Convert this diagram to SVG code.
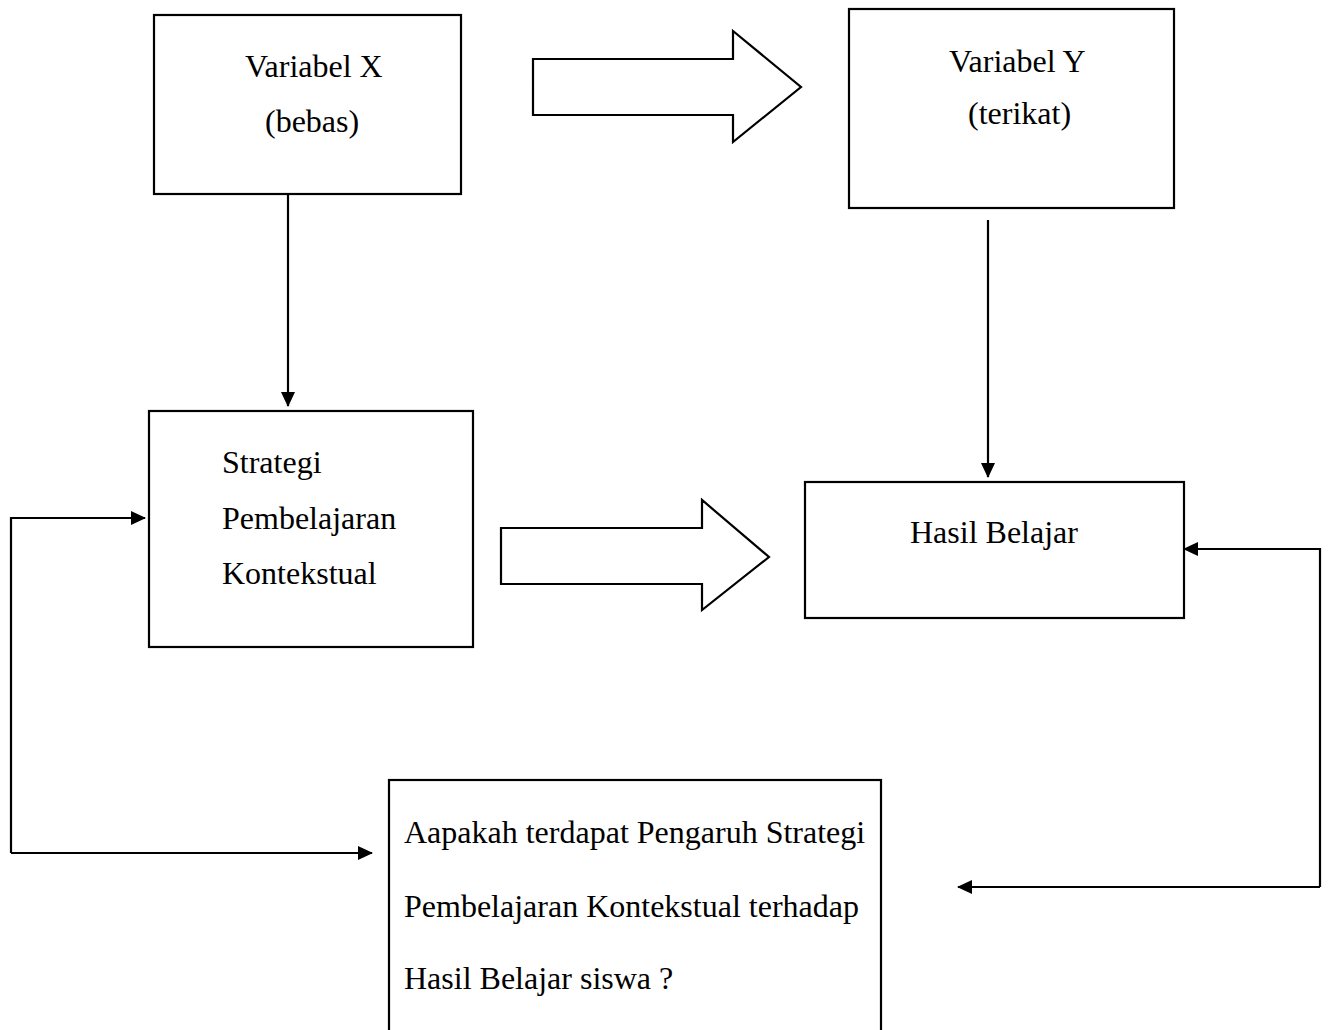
<svg xmlns="http://www.w3.org/2000/svg" width="1331" height="1030" viewBox="0 0 1331 1030">
<style>
.box{fill:#fff;stroke:#000;stroke-width:2.2}
.blk{fill:#fff;stroke:#000;stroke-width:2.2;stroke-linejoin:miter}
.t{font-family:"Liberation Serif","Times New Roman",serif;font-size:32px;fill:#000}
.c{fill:none;stroke:#000;stroke-width:2.2}
</style>
<defs>
<marker id="ah" viewBox="0 0 15 14" refX="14" refY="7" markerWidth="15" markerHeight="14" markerUnits="userSpaceOnUse" orient="auto">
<path d="M0,0 L15,7 L0,14 Z" fill="#000"/>
</marker>
</defs>
<rect width="1331" height="1030" fill="#fff"/>
<g id="varX">
<rect class="box" x="154" y="15" width="307" height="179"/>
<text class="t" x="245" y="77">Variabel X</text>
<text class="t" x="265" y="132">(bebas)</text>
</g>
<g id="varY">
<rect class="box" x="849" y="9" width="325" height="199"/>
<text class="t" x="949" y="72">Variabel Y</text>
<text class="t" x="968" y="124">(terikat)</text>
</g>
<g id="strategi">
<rect class="box" x="149" y="411" width="324" height="236"/>
<text class="t" x="222" y="473">Strategi</text>
<text class="t" x="222" y="529">Pembelajaran</text>
<text class="t" x="222" y="584">Kontekstual</text>
</g>
<g id="hasil">
<rect class="box" x="805" y="482" width="379" height="136"/>
<text class="t" x="910" y="543">Hasil Belajar</text>
</g>
<g id="pertanyaan">
<rect class="box" x="389" y="780" width="492" height="260"/>
<text class="t" x="404" y="843">Aapakah terdapat Pengaruh Strategi</text>
<text class="t" x="404" y="917">Pembelajaran Kontekstual terhadap</text>
<text class="t" x="404" y="989">Hasil Belajar siswa ?</text>
</g>
<g id="connectors">
<polygon class="blk" points="533,59 733,59 733,31 801,87 733,142 733,115 533,115"/>
<polygon class="blk" points="501,528 702,528 702,500 769,557 702,610 702,584 501,584"/>
<line class="c" x1="288" y1="194" x2="288" y2="406" marker-end="url(#ah)"/>
<line class="c" x1="988" y1="220" x2="988" y2="477" marker-end="url(#ah)"/>
<polyline class="c" points="11,853 11,518 145,518" marker-end="url(#ah)"/>
<line class="c" x1="11" y1="853" x2="372" y2="853" marker-end="url(#ah)"/>
<polyline class="c" points="1320,887 1320,549 1184,549" marker-end="url(#ah)"/>
<line class="c" x1="1320" y1="887" x2="958" y2="887" marker-end="url(#ah)"/>
</g>
</svg>
